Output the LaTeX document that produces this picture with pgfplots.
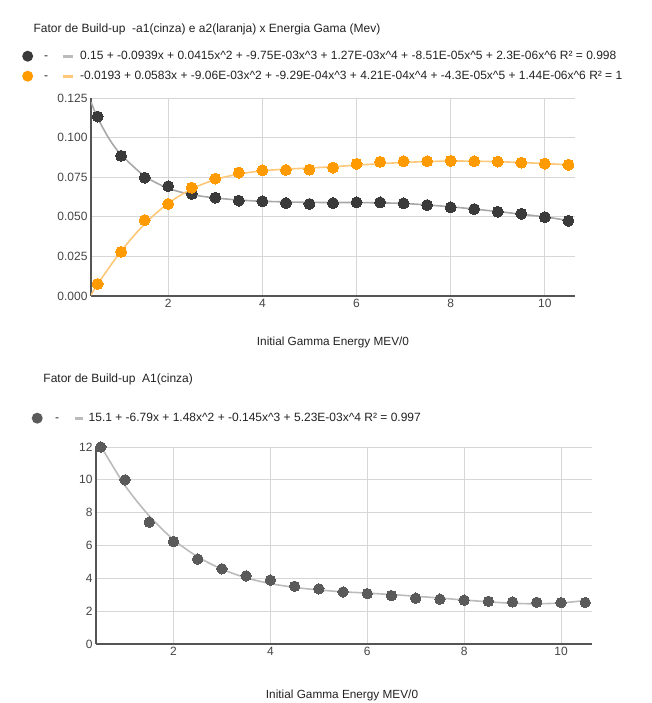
\documentclass[border=0pt]{standalone}
\usepackage{pgfplots}
\pgfplotsset{compat=1.18}
\usepackage{fontspec}
\setmainfont{Liberation Sans}
\definecolor{dotA}{HTML}{3A3A3A}
\definecolor{dotB}{HTML}{5A5A5A}
\definecolor{trendA}{HTML}{A8A8A8}
\definecolor{trendB}{HTML}{BBBBBB}
\definecolor{orangeD}{HTML}{FF9A00}
\definecolor{orangeT}{HTML}{FFC878}
\definecolor{gridc}{HTML}{D6D6D6}
\definecolor{axisc}{HTML}{555555}
\definecolor{textc}{HTML}{222222}
\definecolor{tickc}{HTML}{444444}
\newcommand{\fs}{\fontsize{12}{14}\selectfont}
\pgfplotsset{
  common/.style={
    scale only axis,
    axis lines*=left,
    axis line style={-, draw=axisc, line width=1.1pt},
    grid=major,
    grid style={gridc, line width=0.9pt},
    major tick length=0pt,
    tick label style={font=\fs, text=tickc},
    /pgf/number format/assume math mode=true,
    xtick={2,4,6,8,10},
    xlabel={Initial Gamma Energy MEV/0},
    label style={font=\fontsize{11.8}{14}\selectfont, text=textc},
    title style={font=\fs, text=textc, anchor=west},
    legend cell align=left,
    legend style={draw=none, fill=none, inner sep=0pt, column sep=0pt, row sep=0pt,
      nodes={inner sep=0pt}, font=\fs, text=textc, anchor=north west},
  },
}
\begin{document}
\begin{tikzpicture}[x=1pt,y=1pt]
\useasboundingbox (0,0) rectangle (651,703);
% ---------------- top chart ----------------
\begin{axis}[common,
  at={(91pt,407pt)}, anchor=south west,
  width=484pt, height=198pt,
  xmin=0.36, xmax=10.64, ymin=0, ymax=0.125,
  ytick={0,0.025,0.05,0.075,0.1,0.125},
  yticklabels={0.000,0.025,0.050,0.075,0.100,0.125},
  title={Fator de Build-up\ \ -a1(cinza) e a2(laranja) x Energia Gama (Mev)},
  title style={at={(axis description cs:-0.126,1.318)}},
  xlabel style={at={(axis description cs:0.5,-0.237)}, anchor=center},
  legend style={at={(axis description cs:-0.1426,1.2626)}},
]
\addlegendimage{legend image code/.code={
  \path[draw=none, fill=none] (0pt,-10pt) rectangle (58pt,10pt);
  \fill[dotA, draw=none] (5.5pt,0) circle (5.5pt);
  \node[font=\fs, text=textc, inner sep=0pt, draw=none, fill=none, anchor=base] at (24pt,-3.4pt) {-};
  \fill[trendB, draw=none] (41pt,-1.6pt) rectangle (51pt,1.6pt);}}
\addlegendentry{0.15 + -0.0939x + 0.0415x\textasciicircum2 + -9.75E-03x\textasciicircum3 + 1.27E-03x\textasciicircum4 + -8.51E-05x\textasciicircum5 + 2.3E-06x\textasciicircum6 R² = 0.998}
\addlegendimage{legend image code/.code={
  \path[draw=none, fill=none] (0pt,-10pt) rectangle (58pt,10pt);
  \fill[orangeD, draw=none] (5.5pt,0) circle (5.5pt);
  \node[font=\fs, text=textc, inner sep=0pt, draw=none, fill=none, anchor=base] at (24pt,-3.4pt) {-};
  \fill[orangeT, draw=none] (41pt,-1.6pt) rectangle (51pt,1.6pt);}}
\addlegendentry{-0.0193 + 0.0583x + -9.06E-03x\textasciicircum2 + -9.29E-04x\textasciicircum3 + 4.21E-04x\textasciicircum4 + -4.3E-05x\textasciicircum5 + 1.44E-06x\textasciicircum6 R² = 1}
% trendlines
\addplot[trendA, line width=1.6pt, smooth, forget plot] coordinates {
 (0.36,0.1225) (0.5,0.1125) (0.75,0.0990) (1,0.0892) (1.5,0.0757) (2,0.0680)
 (2.5,0.0640) (3,0.0619) (3.5,0.0606) (4,0.0598) (5,0.0591) (6,0.0590)
 (7,0.0584) (8,0.0563) (9,0.0533) (10,0.0499) (10.5,0.0476)};
\addplot[orangeT, line width=1.6pt, smooth, forget plot] coordinates {
 (0.36,0.0005) (0.5,0.0075) (1,0.0283) (1.5,0.0455) (2,0.0585) (2.5,0.0676)
 (3,0.0735) (3.5,0.0770) (4,0.0790) (4.5,0.0801) (5,0.0808) (5.5,0.0816)
 (6,0.0826) (7,0.0843) (8,0.0852) (9,0.0848) (10,0.0836) (10.5,0.0828)};
% data
\addplot[only marks, mark=*, mark size=5.5pt, mark options={draw=dotA, fill=dotA, line width=0pt}, forget plot] coordinates {
 (0.5,0.1133) (1,0.0885) (1.5,0.0747) (2,0.0693) (2.5,0.0644) (3,0.0621)
 (3.5,0.0602) (4,0.0598) (4.5,0.0587) (5,0.0581) (5.5,0.0587) (6,0.0591)
 (6.5,0.0591) (7,0.0585) (7.5,0.0574) (8,0.0560) (8.5,0.0549) (9,0.0532)
 (9.5,0.0519) (10,0.0498) (10.5,0.0475)};
\addplot[only marks, mark=*, mark size=5.5pt, mark options={draw=orangeD, fill=orangeD, line width=0pt}, forget plot] coordinates {
 (0.5,0.0076) (1,0.0279) (1.5,0.0479) (2,0.0581) (2.5,0.0684) (3,0.0741)
 (3.5,0.0779) (4,0.0794) (4.5,0.0796) (5,0.0798) (5.5,0.0811) (6,0.0834)
 (6.5,0.0847) (7,0.0851) (7.5,0.0851) (8,0.0853) (8.5,0.0851) (9,0.0849)
 (9.5,0.0842) (10,0.0836) (10.5,0.0828)};
\end{axis}
% ---------------- bottom chart ----------------
\begin{axis}[common,
  at={(96pt,59pt)}, anchor=south west,
  width=496pt, height=197pt,
  xmin=0.40, xmax=10.64, ymin=0, ymax=12,
  ytick={0,2,4,6,8,10,12},
  title={Fator de Build-up\ \ A1(cinza)},
  title style={at={(axis description cs:-0.113,1.315)}},
  xlabel style={at={(axis description cs:0.496,-0.259)}, anchor=center},
  legend style={at={(axis description cs:-0.130,1.198)}},
]
\addlegendimage{legend image code/.code={
  \path[draw=none, fill=none] (0pt,-10pt) rectangle (57pt,10pt);
  \fill[dotB, draw=none] (5.5pt,0) circle (5.5pt);
  \node[font=\fs, text=textc, inner sep=0pt, draw=none, fill=none, anchor=base] at (25.5pt,-3.4pt) {-};
  \fill[trendB, draw=none] (43.5pt,-1.6pt) rectangle (51.5pt,1.6pt);}}
\addlegendentry{15.1 + -6.79x + 1.48x\textasciicircum2 + -0.145x\textasciicircum3 + 5.23E-03x\textasciicircum4 R² = 0.997}
\addplot[trendB, line width=1.6pt, smooth, forget plot] coordinates {
 (0.40,12.6) (0.5,12.05) (1,9.65) (1.5,7.8) (2,6.36) (2.5,5.31) (3,4.56)
 (3.5,4.03) (4,3.68) (4.5,3.45) (5,3.29) (5.5,3.18) (6,3.10) (6.5,3.01)
 (7,2.91) (7.5,2.80) (8,2.68) (8.5,2.57) (9,2.48) (9.5,2.45) (10,2.50) (10.5,2.65)};
\addplot[only marks, mark=*, mark size=5.2pt, mark options={draw=dotB, fill=dotB, line width=0pt}, forget plot] coordinates {
 (0.5,12.0) (1,10.0) (1.5,7.42) (2,6.24) (2.5,5.17) (3,4.58) (3.5,4.15)
 (4,3.89) (4.5,3.52) (5,3.36) (5.5,3.17) (6,3.07) (6.5,2.95) (7,2.79)
 (7.5,2.73) (8,2.67) (8.5,2.60) (9,2.56) (9.5,2.54) (10,2.52) (10.5,2.53)};
\end{axis}
\end{tikzpicture}
\end{document}
